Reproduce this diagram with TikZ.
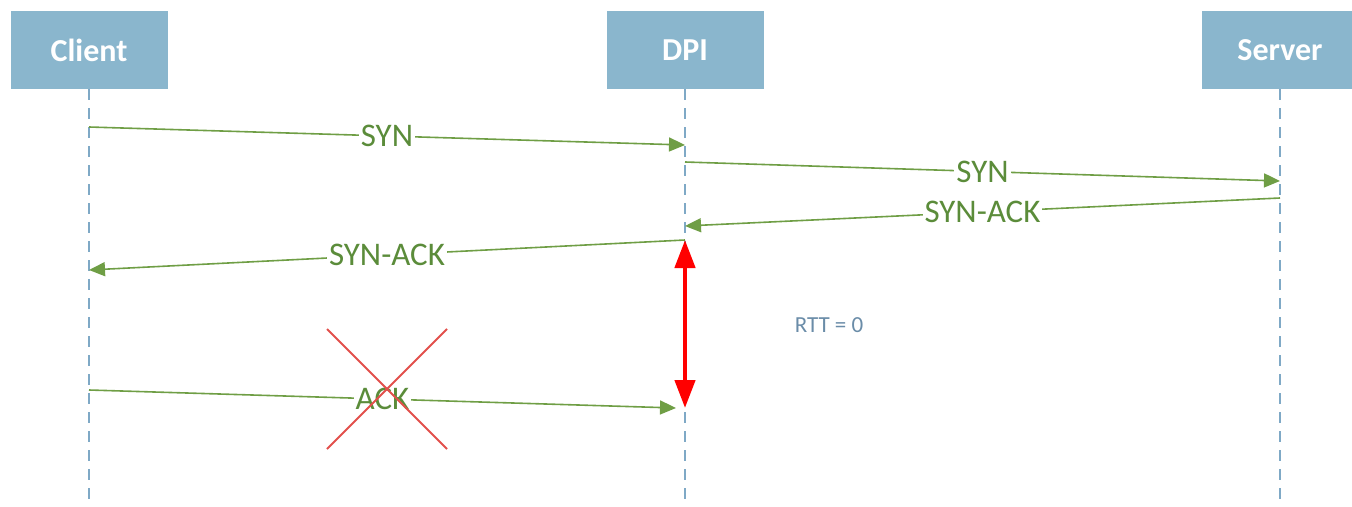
\documentclass[tikz,border=0pt]{standalone}
\usepackage{fontspec}
\setmainfont{Carlito}
\usetikzlibrary{arrows.meta}
\definecolor{boxblue}{HTML}{8AB6CD}
\definecolor{lifeblue}{HTML}{7FA9C6}
\definecolor{msggreen}{HTML}{6F9E45}
\definecolor{txtgreen}{HTML}{5B8C3A}
\definecolor{rttgray}{HTML}{6A8CA8}
\definecolor{xred}{HTML}{E2504C}
\tikzset{
  actor/.style={fill=boxblue, draw=none, minimum width=157pt, minimum height=78pt,
    text=white, font=\fontsize{32}{36}\selectfont\bfseries},
  lifeline/.style={draw=lifeblue, line width=1.4pt, dash pattern=on 11pt off 8pt},
  msg/.style={draw=msggreen, line width=1.6pt, -{Triangle[length=16pt,width=14pt]}},
  msglabel/.style={fill=white, inner sep=2pt, text=txtgreen, font=\fontsize{33}{38}\selectfont},
  rttarrow/.style={draw=red, line width=4.5pt, {Triangle[length=28pt,width=20pt]}-{Triangle[length=28pt,width=20pt]}},
  crossline/.style={draw=xred, line width=1.8pt}
}
\begin{document}
\begin{tikzpicture}[x=1pt,y=-1pt]
\useasboundingbox (0,0) rectangle (1352,506);
\node[actor] (client) at (89,50) {Client};
\node[actor] (dpi) at (685,50) {DPI};
\node[actor] (server) at (1280,50) {Server};
\coordinate (cend) at (89,510);
\coordinate (dend) at (685,510);
\coordinate (send) at (1280,510);
\draw[lifeline] (client.south) -- (cend);
\draw[lifeline] (dpi.south) -- (dend);
\draw[lifeline] (server.south) -- (send);
% message end points
\coordinate (c1) at (89,127);
\coordinate (d1) at (685,145);
\coordinate (d2) at (685,162);
\coordinate (s2) at (1280,181);
\coordinate (s3) at (1280,198);
\coordinate (d3) at (685,226);
\coordinate (d4) at (685,240);
\coordinate (c4) at (89,270);
\coordinate (c5) at (89,390);
\coordinate (d5) at (676,408);
\coordinate (rtop) at (685,240);
\coordinate (rbot) at (685,408);
\draw[msg] (c1) -- node[msglabel] (l1) {SYN} (d1);
\draw[msg] (d2) -- node[msglabel] (l2) {SYN} (s2);
\draw[msg] (s3) -- node[msglabel] (l3) {SYN-ACK} (d3);
\draw[msg] (d4) -- node[msglabel] (l4) {SYN-ACK} (c4);
\draw[msg] (c5) -- node[msglabel] (l5) {ACK} (d5);
\draw[rttarrow] (rtop) -- (rbot);
\node[text=rttgray, font=\fontsize{23}{27}\selectfont] (rtt) at (829,325) {RTT = 0};
\draw[crossline] (327,329) -- (447,449);
\draw[crossline] (447,329) -- (327,449);
\end{tikzpicture}
\end{document}
